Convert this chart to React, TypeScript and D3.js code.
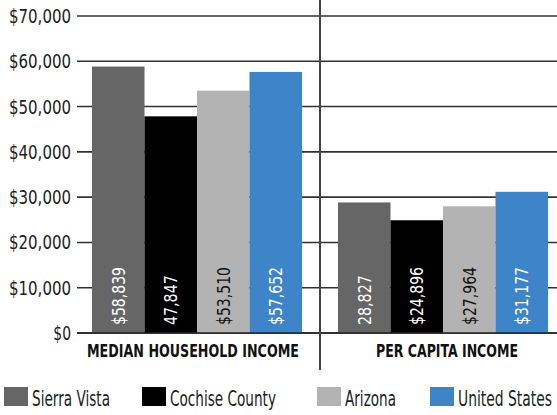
import React from "react";
import * as d3 from "d3";

const categories = ["MEDIAN HOUSEHOLD INCOME", "PER CAPITA INCOME"];
const seriesNames = ["Sierra Vista", "Cochise County", "Arizona", "United States"];
const seriesColors = ["#666666", "#000000", "#b3b3b3", "#3e84c8"];
const labelColors = ["#ffffff", "#ffffff", "#111111", "#ffffff"];
const medianValues = [58839, 47847, 53510, 57652];
const perCapitaValues = [28827, 24896, 27964, 31177];
const medianLabels = ["$58,839", "47,847", "$53,510", "$57,652"];
const perCapitaLabels = ["28,827", "$24,896", "$27,964", "$31,177"];
const yTicks = [0, 10000, 20000, 30000, 40000, 50000, 60000, 70000];

const values = [medianValues, perCapitaValues];
const labels = [medianLabels, perCapitaLabels];

const W = 557;
const H = 415;
const FONT = "'Liberation Sans Narrow', 'DejaVu Sans Condensed', 'Roboto Condensed', sans-serif";

export default function App() {
  const y = d3.scaleLinear().domain([0, 70000]).range([333, 16]);
  const x = d3.scaleBand().domain(categories).range([74, 566]).padding(0);
  const xs = d3.scaleBand().domain(seriesNames).range([0, x.bandwidth()])
    .paddingInner(0).paddingOuter(0.343);
  const fmt = d3.format("$,");

  // legend positions (swatch left, text width)
  const legendX = [4, 142, 317, 430];
  const legendW = [78, 106, 51, 94];

  return (
    <svg width={W} height={H} style={{ position: "absolute", left: 0, top: 0, background: "#fff" }}
      fontFamily={FONT}>
      {/* grid + y labels */}
      {yTicks.map((t) => {
        const s = fmt(t);
        return (
          <g key={t}>
            <line x1={77} x2={W} y1={y(t)} y2={y(t)} stroke="#333" strokeWidth={1.6} />
            <text x={71} y={y(t)} dy="0.36em" textAnchor="end" fontSize={19.5} fill="#222"
              textLength={(62 * s.length) / 7} lengthAdjust="spacingAndGlyphs">
              {s}
            </text>
          </g>
        );
      })}
      {/* bars */}
      {categories.map((c, ci) => (
        <g key={c} transform={`translate(${x(c)},0)`}>
          {seriesNames.map((s, si) => (
            <rect key={s} x={xs(s)} y={y(values[ci][si])} width={xs.bandwidth()}
              height={y(0) - y(values[ci][si])} fill={seriesColors[si]} />
          ))}
          {seriesNames.map((s, si) => {
            const cx = (xs(s) as number) + xs.bandwidth() / 2;
            const txt = labels[ci][si];
            return (
              <text key={s + "l"} transform={`translate(${cx},${y(0) - 8}) rotate(-90)`}
                dy="0.36em" fontSize={18} fill={labelColors[si]}
                textLength={(58 * txt.length) / 7} lengthAdjust="spacingAndGlyphs">
                {txt}
              </text>
            );
          })}
          <text x={x.bandwidth() / 2 - (ci === 0 ? 4 : -4)} y={357} textAnchor="middle" fontSize={18.5}
            fontWeight="bold" fill="#111"
            textLength={ci === 0 ? 212 : 142} lengthAdjust="spacingAndGlyphs">
            {c}
          </text>
        </g>
      ))}
      <line x1={77} x2={W} y1={y(0)} y2={y(0)} stroke="#222" strokeWidth={1.6} />
      {/* divider */}
      <line x1={320} x2={320} y1={0} y2={370} stroke="#444" strokeWidth={2} />
      {/* legend */}
      {seriesNames.map((s, i) => (
        <g key={s}>
          <rect x={legendX[i]} y={387} width={24} height={19} fill={seriesColors[i]} />
          <text x={legendX[i] + 28} y={406} fontSize={22} fill="#222"
            textLength={legendW[i]} lengthAdjust="spacingAndGlyphs">
            {s}
          </text>
        </g>
      ))}
    </svg>
  );
}
